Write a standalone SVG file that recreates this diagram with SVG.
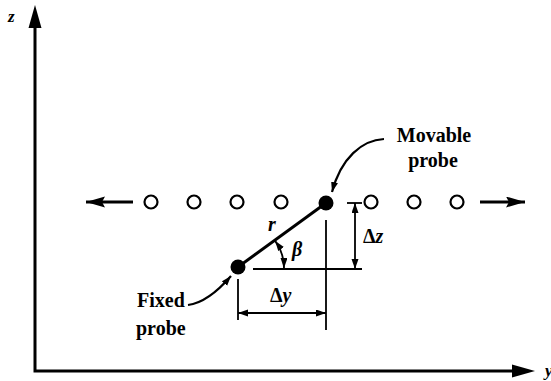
<svg xmlns="http://www.w3.org/2000/svg" width="551" height="381" viewBox="0 0 551 381">
<style>
.ax{stroke:#000;stroke-width:3;fill:none}
.thick{stroke:#000;stroke-width:3;fill:none}
.thin{stroke:#000;stroke-width:1.8;fill:none}
.ring{stroke:#000;stroke-width:2.2;fill:#fff}
.dot{fill:#000}
.lbl{font-family:"Liberation Serif",serif;font-weight:bold;font-size:20px;fill:#000}
.it{font-family:"Liberation Serif",serif;font-weight:bold;font-style:italic;fill:#000}
</style>
<defs>
<marker id="mid" markerUnits="userSpaceOnUse" markerWidth="20" markerHeight="12" refX="19" refY="5.5" orient="auto-start-reverse">
<path d="M0,0 L19,5.5 L0,11 L3,5.5 Z" fill="#000"/>
</marker>
<marker id="sm" markerUnits="userSpaceOnUse" markerWidth="12" markerHeight="8" refX="10" refY="3.5" orient="auto-start-reverse">
<path d="M0,0 L10,3.5 L0,7 Z" fill="#000"/>
</marker>
</defs>

<g id="axes">
<path class="ax" d="M35,28 L35,371 L512,371"/>
<path d="M35,5 L28.5,28 L41.5,28 Z" fill="#000"/>
<path d="M535,371 L512,364.5 L512,377.5 Z" fill="#000"/>
<text class="it" x="8" y="22" font-size="17">z</text>
<text class="it" x="545" y="376" font-size="17">y</text>
</g>

<g id="probe-row">
<circle class="ring" cx="151" cy="202" r="6.5"/>
<circle class="ring" cx="194" cy="202" r="6.5"/>
<circle class="ring" cx="237" cy="202" r="6.5"/>
<circle class="ring" cx="281" cy="202" r="6.5"/>
<circle class="ring" cx="371" cy="202" r="6.5"/>
<circle class="ring" cx="414" cy="202" r="6.5"/>
<circle class="ring" cx="457" cy="202" r="6.5"/>
</g>

<g id="movable-probe">
<circle class="dot" cx="326" cy="203" r="7.5"/>
<text class="lbl" x="434" y="142" text-anchor="middle">Movable</text>
<text class="lbl" x="433" y="167" text-anchor="middle">probe</text>
</g>

<g id="fixed-probe">
<circle class="dot" cx="238" cy="267" r="7.5"/>
<text class="lbl" x="137" y="307">Fixed</text>
<text class="lbl" x="136" y="335">probe</text>
</g>

<g id="connectors">
<line class="thick" x1="133" y1="202" x2="86" y2="202" marker-end="url(#mid)"/>
<line class="thick" x1="480" y1="202" x2="525" y2="202" marker-end="url(#mid)"/>
<line class="thick" x1="238" y1="267" x2="326" y2="203"/>
<path class="thin" d="M384,139 C362,140 341,158 332,192" marker-end="url(#sm)" style="stroke-width:2.2"/>
<path class="thin" d="M188,305 C204,303 218,291 231,276" marker-end="url(#sm)" style="stroke-width:2.2"/>
<line class="thin" x1="253" y1="269" x2="362" y2="269"/>
<line class="thin" x1="326" y1="220" x2="326" y2="330"/>
<line class="thin" x1="238" y1="279" x2="238" y2="320"/>
<line class="thin" x1="347" y1="203" x2="362" y2="203"/>
<line class="thin" x1="238" y1="313" x2="326" y2="313" marker-start="url(#sm)" marker-end="url(#sm)"/>
<line class="thin" x1="355" y1="203" x2="355" y2="269" marker-start="url(#sm)" marker-end="url(#sm)"/>
<path class="thin" d="M284,268 A46,46 0 0 0 275.2,240.9" marker-start="url(#sm)" marker-end="url(#sm)"/>
</g>

<g id="labels">
<text class="it" x="268" y="231" font-size="20">r</text>
<text class="it" x="292" y="256" font-size="20">β</text>
<text class="lbl" x="363" y="243">Δ<tspan font-style="italic">z</tspan></text>
<text class="lbl" x="270" y="302">Δ<tspan font-style="italic">y</tspan></text>
</g>
</svg>
